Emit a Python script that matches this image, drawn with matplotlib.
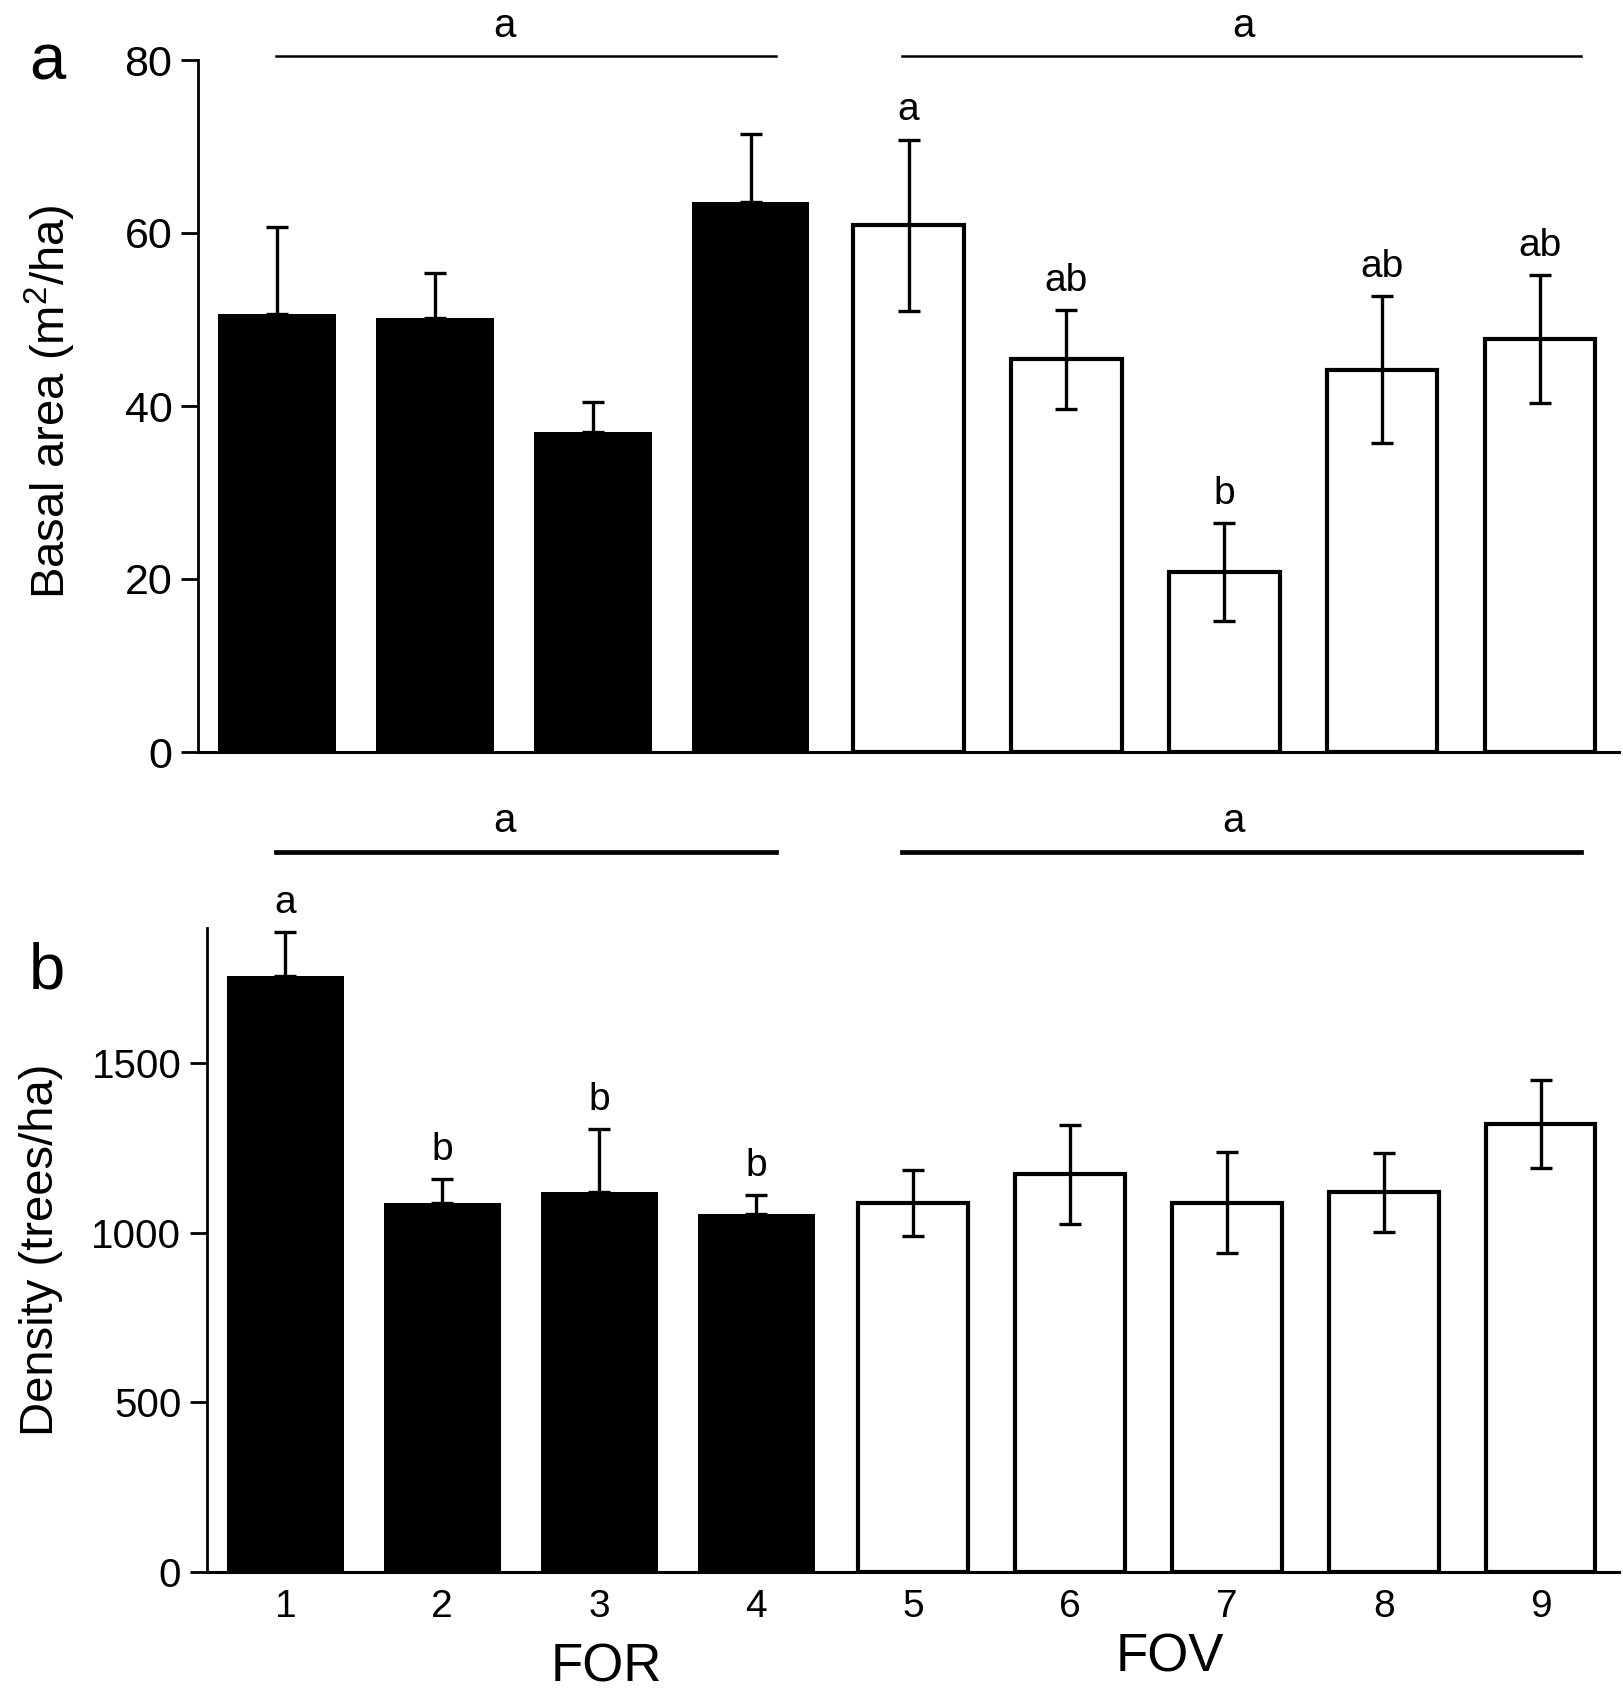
import matplotlib
matplotlib.use("Agg")
import matplotlib.pyplot as plt
from matplotlib.lines import Line2D
import numpy as np

plt.rcParams['font.family'] = ['Liberation Sans', 'DejaVu Sans']
plt.rcParams['mathtext.default'] = 'regular'

# ---- data ----
sites = [1, 2, 3, 4, 5, 6, 7, 8, 9]
site_labels = ['1', '2', '3', '4', '5', '6', '7', '8', '9']
group = ['FOR', 'FOR', 'FOR', 'FOR', 'FOV', 'FOV', 'FOV', 'FOV', 'FOV']

basal_mean = [50.6, 50.2, 37.0, 63.6, 60.9, 45.4, 20.8, 44.2, 47.7]
basal_err = [10.1, 5.2, 3.5, 7.9, 9.9, 5.7, 5.7, 8.5, 7.4]
basal_letters = ['', '', '', '', 'a', 'ab', 'b', 'ab', 'ab']

density_mean = [1758, 1087, 1119, 1056, 1089, 1172, 1089, 1119, 1321]
density_err = [129, 72, 186, 56, 97, 145, 150, 117, 129]
density_letters = ['a', 'b', 'b', 'b', '', '', '', '', '']

group_letters_a = ['a', 'a']
group_letters_b = ['a', 'a']

W, H = 1623, 1698
fig = plt.figure(figsize=(W / 100, H / 100), dpi=100)

def fx(px):
    return px / W

def fy(py):
    return 1 - py / H

ax_a = fig.add_axes([fx(198), fy(752), fx(1619) - fx(198), fy(60) - fy(752)])
ax_b = fig.add_axes([fx(207), fy(1572), fx(1619) - fx(207), fy(927.5) - fy(1572)])


def draw_panel(ax, means, errs, letters, ylim, yticks, tick_fs, show_x):
    x = np.array(sites, dtype=float)
    for xi, m, e, g in zip(x, means, errs, group):
        if g == 'FOR':
            ax.bar(xi, m, width=0.745, color='black', edgecolor='black',
                   linewidth=0, zorder=2)
            ax.errorbar(xi, m, yerr=[[0], [e]], fmt='none', ecolor='black',
                        elinewidth=2.4, capsize=8, capthick=2.4, zorder=3)
        else:
            ax.bar(xi, m, width=0.70, color='white', edgecolor='black',
                   linewidth=3.0, zorder=2)
            ax.errorbar(xi, m, yerr=[[e], [e]], fmt='none', ecolor='black',
                        elinewidth=2.4, capsize=8, capthick=2.4, zorder=3)
    for xi, m, e, t in zip(x, means, errs, letters):
        if t:
            ax.annotate(t, xy=(xi, m + e), xytext=(0, 21), textcoords='offset points',
                        ha='center', va='center', fontsize=28, annotation_clip=False)
    ax.set_xlim(0.5, 9.5)
    ax.set_ylim(*ylim)
    ax.set_yticks(yticks)
    ax.tick_params(axis='y', direction='out', length=12.5, width=2, pad=6,
                   labelsize=tick_fs)
    ax.spines['top'].set_visible(False)
    ax.spines['right'].set_visible(False)
    ax.spines['left'].set_linewidth(2)
    ax.spines['bottom'].set_linewidth(2.2)
    ax.set_xticks(x)
    if show_x:
        ax.set_xticklabels(site_labels)
        ax.tick_params(axis='x', length=0, pad=12, labelsize=28)
    else:
        ax.set_xticklabels([])
        ax.tick_params(axis='x', length=0)
    ax.patch.set_visible(False)


draw_panel(ax_a, basal_mean, basal_err, basal_letters, (0, 80), [0, 20, 40, 60, 80], 31, False)
draw_panel(ax_b, density_mean, density_err, density_letters, (0, 1900), [0, 500, 1000, 1500], 29, True)

# group comparison lines
for (x0, x1, xl, t), lw, yl, yt in [((276, 776, 505, group_letters_a[0]), 1.8, 56, 26),
                                    ((902, 1581, 1244, group_letters_a[1]), 1.8, 56, 26),
                                    ((276, 776, 505, group_letters_b[0]), 3.4, 852, 821),
                                    ((902, 1581, 1234, group_letters_b[1]), 3.4, 852, 821)]:
    fig.add_artist(Line2D([fx(x0), fx(x1)], [fy(yl), fy(yl)], color='black',
                          linewidth=lw, transform=fig.transFigure))
    fig.text(fx(xl), fy(yt), t, ha='center', va='center', fontsize=29)

# panel letters
fig.text(fx(47), fy(63), 'a', ha='center', va='center', fontsize=47)
fig.text(fx(47), fy(972), 'b', ha='center', va='center', fontsize=47)

# axis labels
fig.text(fx(50), fy(402), 'Basal area (m$^2$/ha)', rotation=90, ha='center',
         va='center', fontsize=34)
fig.text(fx(41), fy(1250), 'Density (trees/ha)', rotation=90, ha='center',
         va='center', fontsize=34)
fig.text(fx(606), fy(1667), 'FOR', ha='center', va='center', fontsize=38)
fig.text(fx(1170), fy(1658), 'FOV', ha='center', va='center', fontsize=38)

fig.savefig('out.png', dpi=100, facecolor='white')
